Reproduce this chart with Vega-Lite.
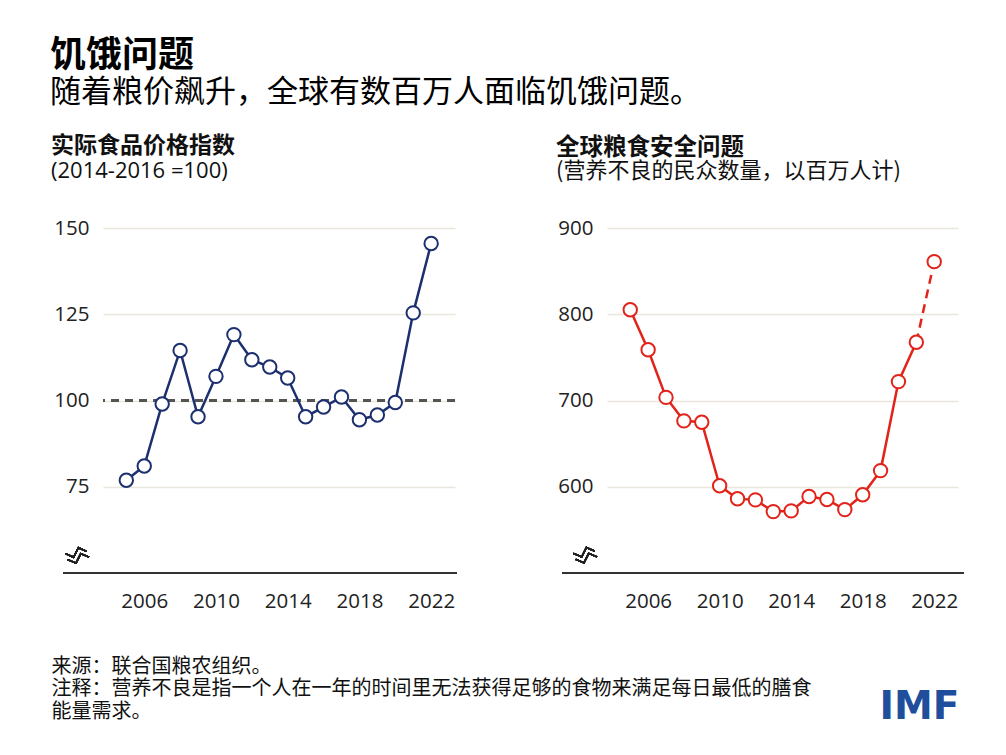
{
  "$schema": "https://vega.github.io/schema/vega-lite/v6.json",
  "autosize": {"type": "none"},
  "padding": {"left": 103, "top": 228, "right": 903, "bottom": 527},
  "background": "white",
  "datasets": {
    "food": [
      {"year": 2005, "value": 76.9}, {"year": 2006, "value": 81.0}, {"year": 2007, "value": 99.0},
      {"year": 2008, "value": 114.5}, {"year": 2009, "value": 95.3}, {"year": 2010, "value": 107.0},
      {"year": 2011, "value": 119.1}, {"year": 2012, "value": 111.8}, {"year": 2013, "value": 109.7},
      {"year": 2014, "value": 106.5}, {"year": 2015, "value": 95.3}, {"year": 2016, "value": 98.1},
      {"year": 2017, "value": 101.0}, {"year": 2018, "value": 94.4}, {"year": 2019, "value": 95.8},
      {"year": 2020, "value": 99.4}, {"year": 2021, "value": 125.4}, {"year": 2022, "value": 145.5}
    ],
    "hunger": [
      {"year": 2005, "value": 805.3}, {"year": 2006, "value": 758.9}, {"year": 2007, "value": 703.6},
      {"year": 2008, "value": 676.4}, {"year": 2009, "value": 674.8}, {"year": 2010, "value": 601.2},
      {"year": 2011, "value": 586.0}, {"year": 2012, "value": 584.8}, {"year": 2013, "value": 571.2},
      {"year": 2014, "value": 572.0}, {"year": 2015, "value": 588.7}, {"year": 2016, "value": 585.2},
      {"year": 2017, "value": 573.5}, {"year": 2018, "value": 590.7}, {"year": 2019, "value": 618.7},
      {"year": 2020, "value": 721.9}, {"year": 2021, "value": 767.5}, {"year": 2022, "value": 861.0}
    ]
  },
  "title": {
    "text": "饥饿问题",
    "subtitle": "随着粮价飙升，全球有数百万人面临饥饿问题。",
    "anchor": "start",
    "frame": "group",
    "dx": -53,
    "offset": 26,
    "font": "Noto Sans CJK SC",
    "fontSize": 36,
    "fontWeight": "bold",
    "color": "#000000",
    "subtitleFont": "Noto Sans CJK SC",
    "subtitleFontSize": 31,
    "subtitleColor": "#000000",
    "subtitlePadding": 3
  },
  "bounds": "flush",
  "spacing": 152,
  "hconcat": [
    {
      "width": 352,
      "height": 345,
      "data": {"name": "food"},
      "title": {
        "text": "实际食品价格指数",
        "subtitle": "(2014-2016 =100)",
        "anchor": "start",
        "frame": "group",
        "dx": -52,
        "offset": 36,
        "font": "Noto Sans CJK SC",
        "fontSize": 23,
        "fontWeight": "bold",
        "color": "#111111",
        "subtitleFont": "Open Sans",
        "subtitleFontSize": 22,
        "subtitleColor": "#111111",
        "subtitlePadding": 3
      },
      "layer": [
        {
          "mark": {"type": "rule", "color": "#555555", "strokeDash": [8, 6], "strokeWidth": 1.5},
          "encoding": {"y": {"datum": 100, "type": "quantitative", "scale": {"domain": [50, 150], "zero": false}}}
        },
        {
          "mark": {"type": "rule", "color": "#333333", "strokeWidth": 1.5},
          "encoding": {
            "x": {"datum": 2001.5, "type": "quantitative", "scale": {"domain": [2003.7, 2023.33], "zero": false}},
            "x2": {"datum": 2023.43},
            "y": {"datum": 50, "type": "quantitative", "scale": {"domain": [50, 150], "zero": false}}
          }
        },
        {
          "mark": {"type": "point", "shape": "M-1,0 L-0.3,0.3 L0.1,-0.5 L0.8,-0.2 M-0.8,0.5 L-0.1,0.8 L0.3,0 L1,0.3", "filled": false, "stroke": "#222222", "strokeWidth": 1.4, "size": 560, "opacity": 1},
          "encoding": {
            "x": {"datum": 2002.26, "type": "quantitative", "scale": {"domain": [2003.7, 2023.33], "zero": false}},
            "y": {"datum": 55.6, "type": "quantitative", "scale": {"domain": [50, 150], "zero": false}}
          }
        },
        {
          "mark": {"type": "line", "color": "#1c2f6e", "strokeWidth": 2.5},
          "encoding": {
            "x": {
              "field": "year", "type": "quantitative",
              "scale": {"domain": [2003.7, 2023.33], "zero": false},
              "axis": {
                "values": [2006, 2010, 2014, 2018, 2022], "format": "d",
                "title": ["来源：联合国粮农组织。", "注释：营养不良是指一个人在一年的时间里无法获得足够的食物来满足每日最低的膳食", "能量需求。"],
                "titleX": -52, "titleY": 83, "titleAlign": "left", "titleBaseline": "top",
                "titleFont": "Noto Sans CJK SC", "titleFontSize": 20, "titleFontWeight": "normal",
                "titleLineHeight": 22.5, "titleColor": "#111111"
              }
            },
            "y": {
              "field": "value", "type": "quantitative",
              "scale": {"domain": [50, 150], "zero": false},
              "axis": {"values": [75, 100, 125, 150], "title": null}
            }
          }
        },
        {
          "mark": {"type": "point", "filled": true, "fill": "white", "stroke": "#1c2f6e", "strokeWidth": 2, "size": 180, "opacity": 1},
          "encoding": {
            "x": {"field": "year", "type": "quantitative", "scale": {"domain": [2003.7, 2023.33], "zero": false}},
            "y": {"field": "value", "type": "quantitative", "scale": {"domain": [50, 150], "zero": false}}
          }
        }
      ]
    },
    {
      "width": 351,
      "height": 345,
      "data": {"name": "hunger"},
      "title": {
        "text": "全球粮食安全问题",
        "subtitle": "(营养不良的民众数量，以百万人计)",
        "anchor": "start",
        "frame": "group",
        "dx": -51,
        "offset": 36,
        "font": "Noto Sans CJK SC",
        "fontSize": 23.5,
        "fontWeight": "bold",
        "color": "#111111",
        "subtitleFont": "Noto Sans CJK SC",
        "subtitleFontSize": 22,
        "subtitleColor": "#111111",
        "subtitlePadding": 2
      },
      "layer": [
        {
          "mark": {"type": "rule", "color": "#333333", "strokeWidth": 1.5},
          "encoding": {
            "x": {"datum": 2001.2, "type": "quantitative", "scale": {"domain": [2003.7, 2023.33], "zero": false}},
            "x2": {"datum": 2023.65},
            "y": {"datum": 500, "type": "quantitative", "scale": {"domain": [500, 900], "zero": false}}
          }
        },
        {
          "mark": {"type": "point", "shape": "M-1,0 L-0.3,0.3 L0.1,-0.5 L0.8,-0.2 M-0.8,0.5 L-0.1,0.8 L0.3,0 L1,0.3", "filled": false, "stroke": "#222222", "strokeWidth": 1.4, "size": 560, "opacity": 1},
          "encoding": {
            "x": {"datum": 2002.48, "type": "quantitative", "scale": {"domain": [2003.7, 2023.33], "zero": false}},
            "y": {"datum": 522.7, "type": "quantitative", "scale": {"domain": [500, 900], "zero": false}}
          }
        },
        {
          "transform": [{"filter": "datum.year <= 2021"}],
          "mark": {"type": "line", "color": "#e2231a", "strokeWidth": 2.5},
          "encoding": {
            "x": {
              "field": "year", "type": "quantitative",
              "scale": {"domain": [2003.7, 2023.33], "zero": false},
              "axis": {
                "values": [2006, 2010, 2014, 2018, 2022], "format": "d",
                "title": "IMF",
                "titleX": 352, "titleY": 114, "titleAlign": "right", "titleBaseline": "top",
                "titleFont": "DejaVu Sans", "titleFontSize": 39, "titleFontWeight": "bold",
                "titleColor": "#1f4f9c"
              }
            },
            "y": {
              "field": "value", "type": "quantitative",
              "scale": {"domain": [500, 900], "zero": false},
              "axis": {"values": [600, 700, 800, 900], "title": null}
            }
          }
        },
        {
          "transform": [{"filter": "datum.year >= 2021"}],
          "mark": {"type": "line", "color": "#e2231a", "strokeWidth": 2.5, "strokeDash": [9, 6]},
          "encoding": {
            "x": {"field": "year", "type": "quantitative", "scale": {"domain": [2003.7, 2023.33], "zero": false}},
            "y": {"field": "value", "type": "quantitative", "scale": {"domain": [500, 900], "zero": false}}
          }
        },
        {
          "mark": {"type": "point", "filled": true, "fill": "white", "stroke": "#e2231a", "strokeWidth": 2, "size": 180, "opacity": 1},
          "encoding": {
            "x": {"field": "year", "type": "quantitative", "scale": {"domain": [2003.7, 2023.33], "zero": false}},
            "y": {"field": "value", "type": "quantitative", "scale": {"domain": [500, 900], "zero": false}}
          }
        }
      ]
    }
  ],
  "config": {
    "view": {"stroke": null},
    "font": "Noto Sans CJK SC",
    "axisX": {
      "domain": false, "ticks": false, "grid": false,
      "labelFont": "Open Sans", "labelFontSize": 20.5, "labelColor": "#222222",
      "labelPadding": 18, "labelFlush": false, "labelOverlap": false
    },
    "axisY": {
      "domain": false, "ticks": false, "grid": true,
      "gridColor": "#e9e6dc", "gridWidth": 1.5,
      "labelFont": "Open Sans", "labelFontSize": 20.5, "labelColor": "#222222",
      "labelPadding": 14, "labelOverlap": false
    }
  }
}
